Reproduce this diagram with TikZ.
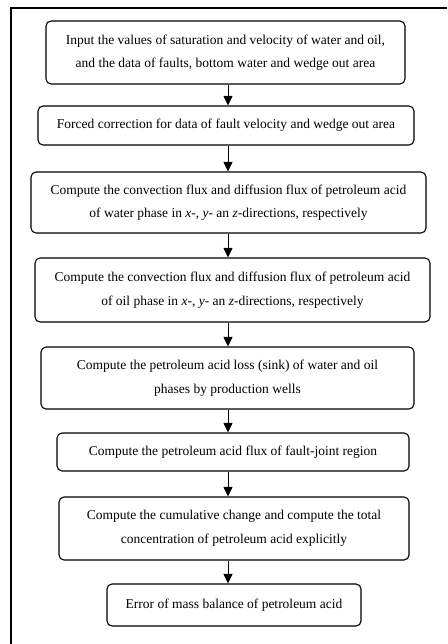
\documentclass[tikz,border=0pt]{standalone}
\usepackage{fontspec}
\setmainfont{Liberation Serif}
\usetikzlibrary{arrows.meta}
\begin{document}
\begin{tikzpicture}[x=1pt,y=-1pt,
  stepbox/.style={draw, line width=1.1pt, rounded corners=5pt, align=center,
    inner sep=0pt, font=\fontsize{13.5}{23.5}\selectfont},
  flow/.style={draw, line width=1pt, -{Triangle[length=9.5pt,width=9pt]}}]
\useasboundingbox (0,0) rectangle (447,644);
% frame lines along the top and the left side
\draw[line width=1.4pt] (447,8) -- (11,8) -- (11,644);
% process steps
\node[stepbox, minimum width=359pt, minimum height=63pt] (b1) at (225.5,52.5)
  {Input the values of saturation and velocity of water and oil,\\and the data of faults, bottom water and wedge out area};
\node[stepbox, minimum width=376pt, minimum height=39pt] (b2) at (226,125.5)
  {Forced correction for data of fault velocity and wedge out area};
\node[stepbox, minimum width=395pt, minimum height=61pt] (b3) at (228.5,202.5)
  {Compute the convection flux and diffusion flux of petroleum acid\\of water phase in \textit{x}-, \textit{y}- an \textit{z}-directions, respectively};
\node[stepbox, minimum width=395pt, minimum height=64pt] (b4) at (232.5,290)
  {Compute the convection flux and diffusion flux of petroleum acid\\of oil phase in \textit{x}-, \textit{y}- an \textit{z}-directions, respectively};
\node[stepbox, minimum width=373pt, minimum height=62pt] (b5) at (227.5,378)
  {Compute the petroleum acid loss (sink) of water and oil\\phases by production wells};
\node[stepbox, minimum width=352pt, minimum height=38pt] (b6) at (233,452)
  {Compute the petroleum acid flux of fault-joint region};
\node[stepbox, minimum width=350pt, minimum height=63pt] (b7) at (234,528.5)
  {Compute the cumulative change and compute the total\\concentration of petroleum acid explicitly};
\node[stepbox, minimum width=254pt, minimum height=42pt] (b8) at (234,605)
  {Error of mass balance of petroleum acid};
% connectors on a common vertical axis
\coordinate (ax) at (228,0);
\foreach \a/\b in {b1/b2,b2/b3,b3/b4,b4/b5,b5/b6,b6/b7,b7/b8}
  \draw[flow] (\a.south -| ax) -- (\b.north -| ax);
\end{tikzpicture}
\end{document}
